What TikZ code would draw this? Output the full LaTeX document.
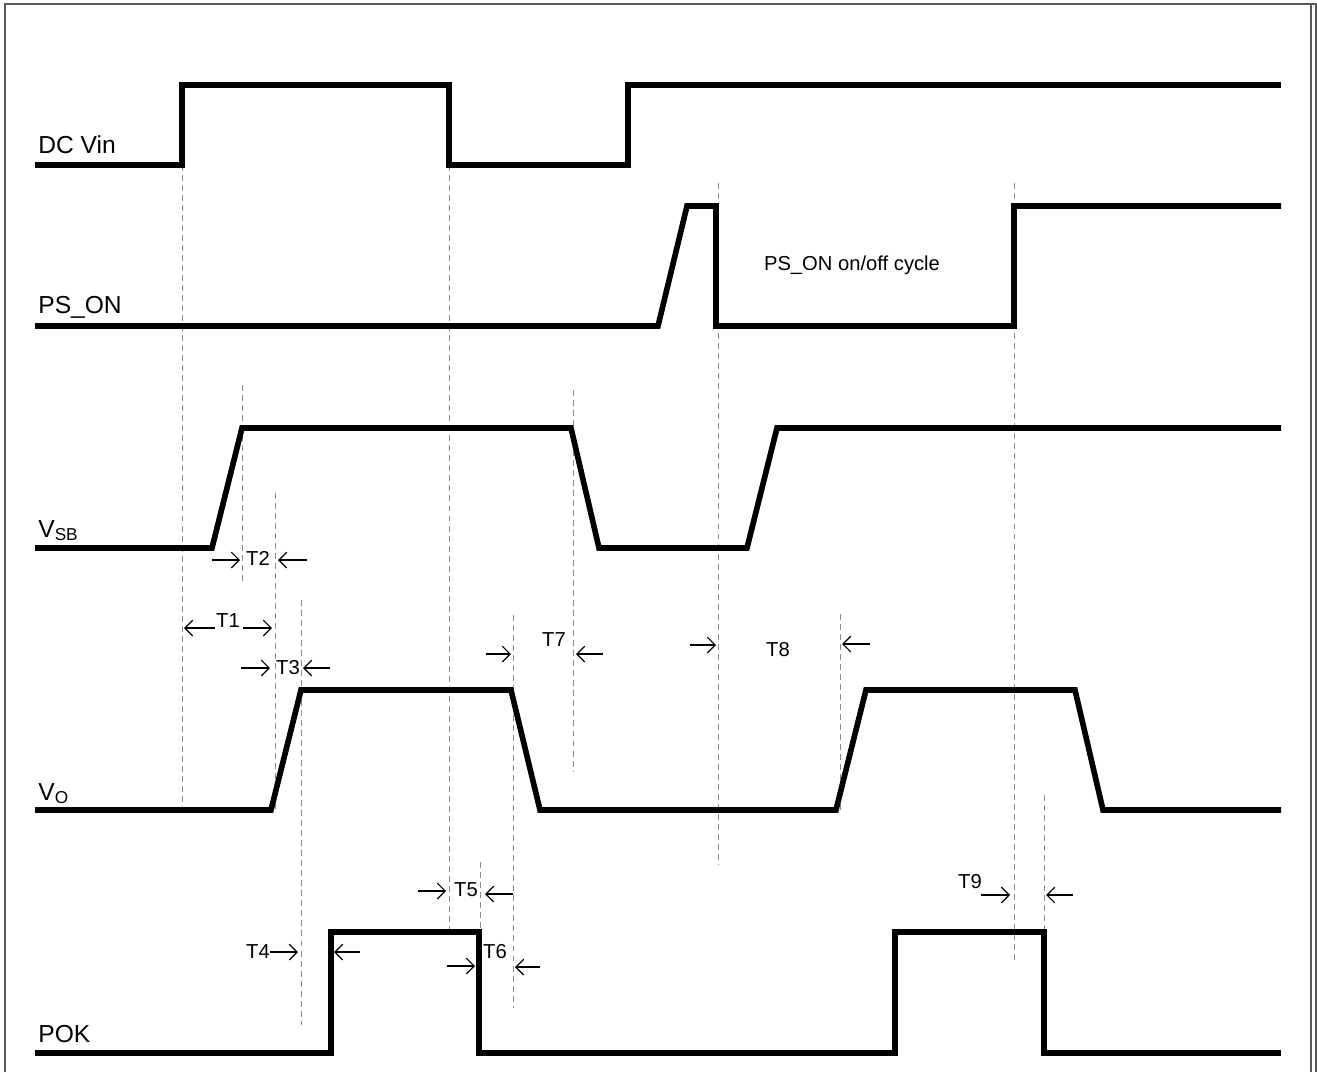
\documentclass[tikz,border=0pt]{standalone}
\usepackage{fontspec}
\setmainfont{Liberation Sans}
\usetikzlibrary{arrows.meta}

\begin{document}
\begin{tikzpicture}[
    x=0.02cm, y=-0.02cm,
    signal/.style = {line width=3.2pt, line join=miter},
    guide/.style = {black!45, line width=0.55pt, dash pattern=on 3.4pt off 2.3pt},
    timing/.style = {line width=0.7pt, -{Straight Barb[length=4.5pt,width=9pt]}},
    signame/.style = {anchor=base west, inner sep=0pt, font=\fontsize{14}{14}\selectfont},
    tlabel/.style = {inner sep=0pt, font=\fontsize{11.5}{11.5}\selectfont}
]
  \useasboundingbox (0,0) rectangle (1317,1072);

  \draw[black!65, line width=0.6pt] (5,1072) -- (5,4) -- (1316,4) -- (1316,1072);
  \draw[black!65, line width=0.6pt] (1311,4) -- (1311,1072);

  \node (dcvin) [signame] at (38,153)  {DC Vin};
  \node (pson)  [signame] at (38,313)  {PS\_ON};
  \node (vsb)   [signame] at (38,537)  {V\textsubscript{SB}};
  \node (vo)    [signame] at (38,800)  {V\textsubscript{O}};
  \node (pok)   [signame] at (38,1042) {POK};
  \node (cycle) [tlabel]  at (852,265) {PS\_ON on/off cycle};

  \draw[guide] (182,165) -- (182,812);
  \draw[guide] (449,165) -- (449,932);
  \draw[guide] (242,385) -- (242,583);
  \draw[guide] (275,493) -- (275,812);
  \draw[guide] (301,600) -- (301,1025);
  \draw[guide] (573,390) -- (573,772);
  \draw[guide] (513,615) -- (513,1008);
  \draw[guide] (480,862) -- (480,932);
  \draw[guide] (718,183) -- (718,865);
  \draw[guide] (840,614) -- (840,810);
  \draw[guide] (1014,183) -- (1014,960);
  \draw[guide] (1044,795) -- (1044,932);

  \draw[signal] (35,165) -- (182,165) -- (182,85) -- (449,85) -- (449,165) -- (628,165) -- (628,85) -- (1281,85);
  \draw[signal] (35,326) -- (658,326) -- (687,206) -- (716,206) -- (716,326) -- (1014,326) -- (1014,206) -- (1281,206);
  \draw[signal] (35,548) -- (212,548) -- (242,428) -- (571,428) -- (599,548) -- (747,548) -- (777,428) -- (1281,428);
  \draw[signal] (35,810) -- (271,810) -- (301,690) -- (511,690) -- (540,810) -- (836,810) -- (866,690) -- (1075,690) -- (1103,810) -- (1281,810);
  \draw[signal] (35,1053) -- (331,1053) -- (331,932) -- (479,932) -- (479,1053) -- (895,1053) -- (895,932) -- (1044,932) -- (1044,1053) -- (1281,1053);

  \node (t1) [tlabel] at (228,621) {T1};
  \node (t2) [tlabel] at (258,558) {T2};
  \node (t3) [tlabel] at (288,668) {T3};
  \node (t4) [tlabel] at (258,952) {T4};
  \node (t5) [tlabel] at (466,890) {T5};
  \node (t6) [tlabel] at (495,952) {T6};
  \node (t7) [tlabel] at (554,640) {T7};
  \node (t8) [tlabel] at (778,650) {T8};
  \node (t9) [tlabel] at (970,882) {T9};

  \coordinate (t1a) at (184,628);  \coordinate (t1b) at (272,628);
  \coordinate (t2a) at (240,560);  \coordinate (t2b) at (278,560);
  \coordinate (t3a) at (270,668);  \coordinate (t3b) at (303,668);
  \coordinate (t4a) at (298,952);  \coordinate (t4b) at (334,952);
  \coordinate (t5a) at (446,891);  \coordinate (t5b) at (485,894);
  \coordinate (t6a) at (475,966);  \coordinate (t6b) at (515,967);
  \coordinate (t7a) at (511,654);  \coordinate (t7b) at (576,654);
  \coordinate (t8a) at (716,645);  \coordinate (t8b) at (842,644);
  \coordinate (t9a) at (1010,895); \coordinate (t9b) at (1046,895);

  \draw[timing] (t1a) ++(31,0)  -- (t1a);
  \draw[timing] (t1b) ++(-29,0) -- (t1b);
  \draw[timing] (t2a) ++(-28,0) -- (t2a);
  \draw[timing] (t2b) ++(29,0)  -- (t2b);
  \draw[timing] (t3a) ++(-29,0) -- (t3a);
  \draw[timing] (t3b) ++(27,0)  -- (t3b);
  \draw[timing] (t4a) ++(-28,0) -- (t4a);
  \draw[timing] (t4b) ++(26,0)  -- (t4b);
  \draw[timing] (t5a) ++(-28,0) -- (t5a);
  \draw[timing] (t5b) ++(28,0)  -- (t5b);
  \draw[timing] (t6a) ++(-28,0) -- (t6a);
  \draw[timing] (t6b) ++(25,0)  -- (t6b);
  \draw[timing] (t7a) ++(-25,0) -- (t7a);
  \draw[timing] (t7b) ++(27,0)  -- (t7b);
  \draw[timing] (t8a) ++(-26,0) -- (t8a);
  \draw[timing] (t8b) ++(28,0)  -- (t8b);
  \draw[timing] (t9a) ++(-29,0) -- (t9a);
  \draw[timing] (t9b) ++(27,0)  -- (t9b);
\end{tikzpicture}
\end{document}
